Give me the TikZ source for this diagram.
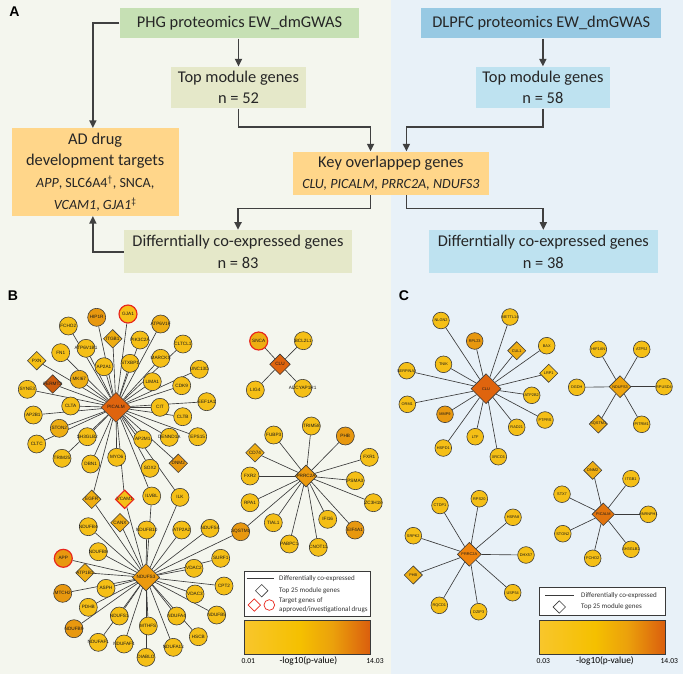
\documentclass[tikz,border=0pt]{standalone}
\usepackage{fontspec}
\setmainfont{Carlito}
\newfontfamily\genefont{Liberation Sans}
\usepackage{tikz}
\usetikzlibrary{shapes.geometric,arrows.meta}

\definecolor{bgleft}{HTML}{F4F6EE}
\definecolor{bgright}{HTML}{E8F1F8}
\definecolor{phggreen}{HTML}{C6E0B4}
\definecolor{dlpfcblue}{HTML}{97C9E3}
\definecolor{phgpale}{HTML}{E5E8C9}
\definecolor{dlpfcpale}{HTML}{BEE2F0}
\definecolor{targetorange}{HTML}{FFD68A}
\definecolor{arrowgray}{HTML}{404040}
\definecolor{linegray}{HTML}{3A3A3A}
\definecolor{gy1}{HTML}{F5BF16}
\definecolor{gy2}{HTML}{EEAD12}
\definecolor{go1}{HTML}{E8980F}
\definecolor{go2}{HTML}{DF640E}
\definecolor{hubor}{HTML}{EC9A0E}
\definecolor{drugred}{HTML}{E8261C}
\definecolor{barA}{HTML}{F8C62C}
\definecolor{barB}{HTML}{F5C000}
\definecolor{barC}{HTML}{EBA00C}
\definecolor{barD}{HTML}{DA5D0D}

\pgfdeclarehorizontalshading{pvalbar}{100bp}{color(0bp)=(barA); color(25bp)=(barA); color(47bp)=(barB); color(60bp)=(barC); color(75bp)=(barD); color(100bp)=(barD)}

\pgfdeclarelayer{bg}
\pgfdeclarelayer{edges}
\pgfsetlayers{bg,edges,main}

\newcommand\gfont{\genefont\fontsize{4}{4.5}\selectfont}
\newcommand\cfont{\genefont\fontsize{3.3}{3.8}\selectfont}

\begin{document}
\begin{tikzpicture}[x=0.03cm, y=-0.03cm,
  flow/.style={draw=arrowgray, line width=1.5pt, -{Stealth[length=6.5pt,width=6pt,inset=0pt]}},
  box/.style={rectangle, inner sep=0pt, align=center, font=\fontsize{14}{18.5}\selectfont, text=black!85},
  gene/.style={circle, draw=linegray, line width=0.5pt, fill=gy1, minimum size=0.54cm, inner sep=0pt, text=black!90, font=\gfont,
    execute at begin node={\hbox to 0pt\bgroup\hss}, execute at end node={\hss\egroup}},
  topgene/.style={gene, diamond, minimum size=0.56cm},
  hub/.style={gene, diamond, fill=go2, minimum size=#1},
  cgene/.style={gene, minimum size=0.5cm, font=\cfont},
  ctopgene/.style={cgene, diamond, minimum size=0.55cm},
  chub/.style={cgene, diamond, fill=go2, minimum size=#1},
  drug/.style={draw=drugred, line width=1pt},
  link/.style={draw=linegray, line width=0.55pt},
  legtext/.style={font=\fontsize{6}{7.7}\selectfont, anchor=west, inner sep=0pt, align=left, text=black!80},
  panel/.style={font=\genefont\bfseries\fontsize{12}{14}\selectfont, inner sep=0pt}
]
\useasboundingbox (0,0) rectangle (683,674);
\begin{pgfonlayer}{bg}
\fill[bgleft] (0,0) rectangle (390.7,674);
\fill[bgright] (390.7,0) rectangle (683,674);
\end{pgfonlayer}

% panel A: flow chart
\node at (14.4,11.7) [panel] (labA) {A};
\node at (239.5,23.3) [box, fill=phggreen, minimum width=7.19cm, minimum height=0.9cm] (phg) {PHG proteomics EW\_dmGWAS};
\node at (541.2,23.3) [box, fill=dlpfcblue, minimum width=7.2cm, minimum height=0.9cm] (dlpfc) {DLPFC proteomics EW\_dmGWAS};
\node at (238.5,87.5) [box, fill=phgpale, minimum width=4.04cm, minimum height=1.25cm] (phgtop) {Top module genes\\n = 52};
\node at (542.9,87.5) [box, fill=dlpfcpale, minimum width=4.01cm, minimum height=1.25cm] (dlpfctop) {Top module genes\\n = 58};
\node at (95.2,172) [box, fill=targetorange, minimum width=5.0cm, minimum height=2.63cm] (targets)
  {AD drug\\development targets\\{\fontsize{12}{18.5}\selectfont\textit{APP}, SLC6A4\textsuperscript{\textdagger}, SNCA,}\\{\fontsize{12}{18.5}\selectfont\textit{VCAM1}, \textit{GJA1}\textsuperscript{\textdaggerdbl}}};
\node at (390.9,173.3) [box, fill=targetorange, minimum width=5.87cm, minimum height=1.3cm] (overlap)
  {Key overlappep genes\\{\fontsize{12}{18.5}\selectfont\itshape CLU, PICALM, PRRC2A, NDUFS3}};
\node at (238,251.7) [box, fill=phgpale, minimum width=6.84cm, minimum height=1.3cm] (phgdiff) {Differntially co-expressed genes\\n = 83};
\node at (543.3,251.7) [box, fill=dlpfcpale, minimum width=6.86cm, minimum height=1.3cm] (dlpfcdiff) {Differntially co-expressed genes\\n = 38};

\draw[flow] (phgtop.north |- phg.south) -- (phgtop.north);
\draw[flow] (dlpfctop.north |- dlpfc.south) -- (dlpfctop.north);
\draw[flow] (phg.west) -| ([xshift=-0.07cm]targets.north);
\draw[flow] (phgtop.south) -- ++(0,18.4) -| ([xshift=-0.61cm]overlap.north);
\draw[flow] (dlpfctop.south) -- ++(0,18.4) -| ([xshift=0.465cm]overlap.north);
\draw[flow] ([xshift=-0.61cm]overlap.south) -- ++(0,13.3) -| (phgdiff.north);
\draw[flow] ([xshift=0.465cm]overlap.south) -- ++(0,13.3) -| (dlpfcdiff.north);
\draw[flow] (phgdiff.west) -| ([xshift=-0.07cm]targets.south);

% panel B: PHG networks
\node at (13,296) [panel] (labB) {B};
\node at (116,407.3) [hub=0.9cm] (picalm) {PICALM};
\node at (96.7,317.3) [gene, fill=go1] (hip1r) {HIP1R};
\node at (128,314) [gene, drug] (gja1) {GJA1};
\node at (68.3,326) [gene] (fcho2) {FCHO2};
\node at (112.7,338.8) [topgene, fill=gy2] (itgb1) {ITGB1};
\node at (160.7,324) [gene, fill=gy2] (atp6v1f) {ATP6V1F};
\node at (140,340) [gene] (pik3c2a) {PIK3C2A};
\node at (86,348.3) [gene] (atp6v1b1) {ATP6V1B1};
\node at (60.7,352.7) [gene] (fn1) {FN1};
\node at (183,344) [gene] (cltcl1) {CLTCL1};
\node at (36.7,360.7) [topgene] (pxn) {PXN};
\node at (104,366.7) [gene] (ap2a1) {AP2A1};
\node at (130,363.3) [gene] (stxbp1) {STXBP1};
\node at (160.7,358.3) [gene] (marcks) {MARCKS};
\node at (199.3,369.3) [gene] (unc13d) {UNC13D};
\node at (79.3,379.3) [gene, fill=gy2] (mki67) {MKI67};
\node at (52.7,384) [topgene, fill=go2!92!black] (fermt2) {FERMT2};
\node at (152.3,381.7) [gene] (lima1) {LIMA1};
\node at (181.7,385.7) [gene] (cdk9) {CDK9};
\node at (27.3,389.3) [gene] (syne3) {SYNE3};
\node at (70.7,406) [gene] (clta) {CLTA};
\node at (160,407.3) [gene] (cit) {CIT};
\node at (206.7,401.7) [gene] (eef1a1) {EEF1A1};
\node at (33.3,415) [gene] (ap2b1) {AP2B1};
\node at (182.7,416.7) [gene] (cltb) {CLTB};
\node at (59.3,428.3) [gene, fill=gy2] (ston2) {STON2};
\node at (87.3,436.7) [gene] (sh3glb2) {SH3GLB2};
\node at (169.3,437.3) [gene] (dennd1a) {DENND1A};
\node at (142.7,439.3) [gene] (ap2m1) {AP2M1};
\node at (197.7,436.7) [gene] (eps15) {EPS15};
\node at (36.7,444) [gene] (cltc) {CLTC};
\node at (62,458.3) [gene] (trim25) {TRIM25};
\node at (116.7,457.3) [gene] (myo6) {MYO6};
\node at (90.7,464) [gene] (dbn1) {DBN1};
\node at (150,468.3) [gene] (sox2) {SOX2};
\node at (178.3,463.3) [topgene, fill=go1] (dnm2) {DNM2};
\node at (91.7,499.3) [topgene, fill=gy2] (egfr) {EGFR};
\node at (124.7,499.3) [topgene, drug] (vcam1) {VCAM1};
\node at (151.7,496) [gene] (ilvbl) {ILVBL};
\node at (180,497.3) [gene] (ilk) {ILK};

\node at (146,577.3) [hub=0.82cm, fill=hubor] (ndufs3) {NDUFS3};
\node at (120,522.7) [topgene, fill=gy2] (canx) {CANX};
\node at (88.3,526.7) [gene] (ndufb4) {NDUFB4};
\node at (146.7,530) [gene] (ndufb10) {NDUFB10};
\node at (181.7,530) [gene] (atp2a2) {ATP2A2};
\node at (210,528.3) [gene] (ndufs4) {NDUFS4};
\node at (240.7,531.7) [gene, fill=go1] (sqstm1) {SQSTM1};
\node at (63.3,558.3) [gene, fill=go1, drug] (app) {APP};
\node at (98.3,551.7) [gene] (ndufb8) {NDUFB8};
\node at (85,572.7) [topgene, fill=gy2] (atp1b1) {ATP1B1};
\node at (194,568.3) [gene] (vdac2) {VDAC2};
\node at (220.7,558.3) [gene] (surf1) {SURF1};
\node at (62.7,593.3) [gene, fill=go1] (mtch2) {MTCH2};
\node at (106,588.3) [gene] (asph) {ASPH};
\node at (224,586) [gene] (cpt2) {CPT2};
\node at (195,594) [gene] (vdac3) {VDAC3};
\node at (88.3,607.3) [gene] (pdhb) {PDHB};
\node at (216.7,615) [gene] (ndufb5) {NDUFB5};
\node at (119.3,616) [gene] (ndufs1) {NDUFS1};
\node at (176.7,616) [gene] (ndufa4) {NDUFA4};
\node at (148.3,626) [gene] (mthfs) {MTHFS};
\node at (74,628.7) [gene, fill=go1] (ndufb9) {NDUFB9};
\node at (198.3,636.7) [gene] (hscb) {HSCB};
\node at (98.3,642.3) [gene] (ndufaf1) {NDUFAF1};
\node at (124,644) [gene] (ndufaf4) {NDUFAF4};
\node at (173.3,647.3) [gene] (ndufa13) {NDUFA13};
\node at (146,657.3) [gene] (diablo) {DIABLO};

\node at (280,364.3) [hub=0.62cm] (clu) {CLU};
\node at (258.7,341) [gene, fill=gy2, drug] (snca) {SNCA};
\node at (303.3,340.7) [gene] (bcl2l1) {BCL2L1};
\node at (255.3,390) [gene] (lig4) {LIG4};
\node at (302.7,388.3) [gene] (adcyap1r1) {ADCYAP1R1};

\node at (306,476) [hub=0.66cm, fill=hubor] (prrc2a) {PRRC2A};
\node at (255,452.7) [topgene, fill=gy2] (cd74) {CD74};
\node at (273.7,435) [gene] (fubp3) {FUBP3};
\node at (311.3,426) [gene] (trim58) {TRIM58};
\node at (345.3,436) [gene, fill=go1] (phb) {PHB};
\node at (369.3,457.3) [gene] (fxr1) {FXR1};
\node at (250,476) [gene] (fxr2) {FXR2};
\node at (355.3,480.7) [gene] (psma3) {PSMA3};
\node at (250,502.7) [gene] (rpa1) {RPA1};
\node at (373.3,502.7) [gene] (zc3h18) {ZC3H18};
\node at (273.3,522.7) [gene] (tial1) {TIAL1};
\node at (327.7,519.3) [gene] (ifi16) {IFI16};
\node at (355,530) [gene, fill=go1] (eif4a1) {EIF4A1};
\node at (289.3,544) [gene] (pabpc1) {PABPC1};
\node at (318.3,547.3) [gene] (cnot11) {CNOT11};

\begin{pgfonlayer}{edges}
\foreach \g in {hip1r,gja1,fcho2,itgb1,atp6v1f,pik3c2a,atp6v1b1,fn1,cltcl1,pxn,ap2a1,stxbp1,marcks,unc13d,mki67,fermt2,lima1,cdk9,syne3,clta,cit,eef1a1,ap2b1,cltb,ston2,sh3glb2,dennd1a,ap2m1,eps15,cltc,trim25,myo6,dbn1,sox2,dnm2,egfr,vcam1,ilvbl,ilk}
  \draw[link] (picalm) -- (\g);
\foreach \g in {egfr,vcam1,ilvbl,ilk,canx,ndufb4,ndufb10,atp2a2,ndufs4,sqstm1,app,ndufb8,atp1b1,vdac2,surf1,mtch2,asph,cpt2,vdac3,pdhb,ndufb5,ndufs1,ndufa4,mthfs,ndufb9,hscb,ndufaf1,ndufaf4,ndufa13,diablo}
  \draw[link] (ndufs3) -- (\g);
\foreach \g in {snca,bcl2l1,lig4,adcyap1r1}
  \draw[link] (clu) -- (\g);
\foreach \g in {cd74,fubp3,trim58,phb,fxr1,fxr2,psma3,zc3h18,rpa1,tial1,ifi16,eif4a1,pabpc1,cnot11,sqstm1}
  \draw[link] (prrc2a) -- (\g);
\end{pgfonlayer}

% legend B
\draw[fill=white, draw=linegray, line width=0.6pt] (244.3,571) rectangle (370.7,616);
\coordinate (bline1) at (246.7,578.3);
\coordinate (bline2) at (274,578.3);
\draw[linegray, line width=0.7pt] (bline1) -- (bline2);
\node at (261.7,590.7) [diamond, draw=linegray, line width=0.5pt, minimum size=0.38cm, inner sep=0pt] (bkey) {};
\node at (254.3,605) [diamond, draw=drugred, line width=0.6pt, minimum size=0.38cm, inner sep=0pt] (bdrugd) {};
\node at (269.3,605) [circle, draw=drugred, line width=0.6pt, minimum size=0.32cm, inner sep=0pt] (bdrugc) {};
\node at (279,578.3) [legtext] (btext1) {Differentially co-expressed};
\node at (279,590.7) [legtext] (btext2) {Top 25 module genes};
\node at (279,605.5) [legtext] (btext3) {Target genes of\\approved/investigational drugs};
\shade[shading=pvalbar] (244.3,620) rectangle (370.7,654);
\draw[linegray, line width=0.6pt] (244.3,620) rectangle (370.7,654);
\node at (248.3,661) [font=\fontsize{6.5}{8}\selectfont] (bmin) {0.01};
\node at (308.3,661) [font=\fontsize{8}{9}\selectfont] (bname) {-log10(p-value)};
\node at (375,661) [font=\fontsize{6.5}{8}\selectfont] (bmax) {14.03};

% panel C: DLPFC networks
\node at (404,296) [panel] (labC) {C};
\node at (486,388.7) [chub=0.9cm] (cclu) {CLU};
\node at (441,320.5) [cgene] (cnlgn2) {NLGN2};
\node at (510,317) [cgene] (cmettl) {METTL14};
\node at (474.7,341) [cgene, fill=go1] (crpl23) {RPL23};
\node at (516.7,350.7) [ctopgene, fill=gy2] (ccul1) {CUL1};
\node at (546.7,345.7) [cgene] (cbax) {BAX};
\node at (443.5,364.3) [cgene] (ctnik) {TNIK};
\node at (548.7,373.3) [ctopgene] (clrp1) {LRP1};
\node at (406.7,370.7) [cgene] (cserpina) {SERPINA3};
\node at (531.7,395.3) [cgene] (catp2b2) {ATP2B2};
\node at (407.3,404.3) [cgene] (corm1) {ORM1};
\node at (445,414.3) [cgene, fill=go1] (cmmp9) {MMP9};
\node at (545,420) [cgene] (cptprs) {PTPRS};
\node at (516.7,427.3) [cgene] (crad21) {RAD21};
\node at (475.2,436.7) [cgene] (cltf) {LTF};
\node at (443.3,448) [cgene] (chspd1) {HSPD1};
\node at (498.3,456.7) [cgene] (cxrcc6) {XRCC6};

\node at (620,386.7) [chub=0.66cm, fill=hubor!90!yellow] (cndufs3) {NDUFS3};
\node at (598.3,349.3) [cgene] (chif1an) {HIF1AN};
\node at (641.7,349.3) [cgene] (catp5j) {ATP5J};
\node at (576.7,387.3) [cgene] (cogdh) {OGDH};
\node at (664,386.7) [cgene] (crpusd4) {RPUSD4};
\node at (598.3,424) [ctopgene, fill=gy2] (csqstm1) {SQSTM1};
\node at (641.7,424.3) [cgene] (cpitrm1) {PITRM1};

\node at (469.3,554.3) [chub=0.72cm, fill=hubor!85!red] (cprrc2a) {PRRC2A};
\node at (440,505.5) [cgene] (cctdp1) {CTDP1};
\node at (479.3,498.7) [cgene] (crps20) {RPS20};
\node at (513,517.3) [cgene] (chspa8) {HSPA8};
\node at (413.3,535.7) [cgene] (csrpk2) {SRPK2};
\node at (526,555) [cgene] (cdhx57) {DHX57};
\node at (413.3,575) [ctopgene, fill=gy2] (cphb) {PHB};
\node at (512.7,592.7) [cgene] (cusp54) {USP54};
\node at (439.3,605.3) [cgene] (crqcd1) {RQCD1};
\node at (478.7,611.7) [cgene] (cdzip3) {DZIP3};

\node at (603.3,514.3) [chub=0.68cm, fill=go2!90!yellow] (cpicalm) {PICALM};
\node at (592.7,470.3) [ctopgene, fill=gy2] (cdnm2) {DNM2};
\node at (631,478.7) [cgene] (citgb1) {ITGB1};
\node at (562,494.2) [cgene] (cstx7) {STX7};
\node at (648.3,514.3) [cgene] (chnrnph1) {HNRNPH1};
\node at (562.8,533.7) [cgene] (cston2) {STON2};
\node at (631,549.3) [cgene] (csh3glb2) {SH3GLB2};
\node at (592.7,558.3) [cgene] (cfcho2) {FCHO2};

\begin{pgfonlayer}{edges}
\foreach \g in {cnlgn2,cmettl,crpl23,ccul1,cbax,ctnik,clrp1,cserpina,catp2b2,corm1,cmmp9,cptprs,crad21,cltf,chspd1,cxrcc6}
  \draw[link] (cclu) -- (\g);
\foreach \g in {chif1an,catp5j,cogdh,crpusd4,csqstm1,cpitrm1}
  \draw[link] (cndufs3) -- (\g);
\foreach \g in {cctdp1,crps20,chspa8,csrpk2,cdhx57,cphb,cusp54,crqcd1,cdzip3}
  \draw[link] (cprrc2a) -- (\g);
\foreach \g in {cdnm2,citgb1,cstx7,chnrnph1,cston2,csh3glb2,cfcho2}
  \draw[link] (cpicalm) -- (\g);
\end{pgfonlayer}

% legend C
\draw[fill=white, draw=linegray, line width=0.6pt] (539,587.3) rectangle (665.7,615.7);
\coordinate (cline1) at (545,595.3);
\coordinate (cline2) at (574,595.3);
\draw[linegray, line width=0.7pt] (cline1) -- (cline2);
\node at (559.3,607) [diamond, draw=linegray, line width=0.5pt, minimum size=0.38cm, inner sep=0pt] (ckey) {};
\node at (581,595.3) [legtext] (ctext1) {Differentially co-expressed};
\node at (581,607) [legtext] (ctext2) {Top 25 module genes};
\shade[shading=pvalbar] (539,620) rectangle (665.7,654.3);
\draw[linegray, line width=0.6pt] (539,620) rectangle (665.7,654.3);
\node at (543.3,661.3) [font=\fontsize{6.5}{8}\selectfont] (cmin) {0.03};
\node at (605,661.3) [font=\fontsize{8}{9}\selectfont] (cname) {-log10(p-value)};
\node at (669.3,661.3) [font=\fontsize{6.5}{8}\selectfont] (cmax) {14.03};
\end{tikzpicture}
\end{document}
